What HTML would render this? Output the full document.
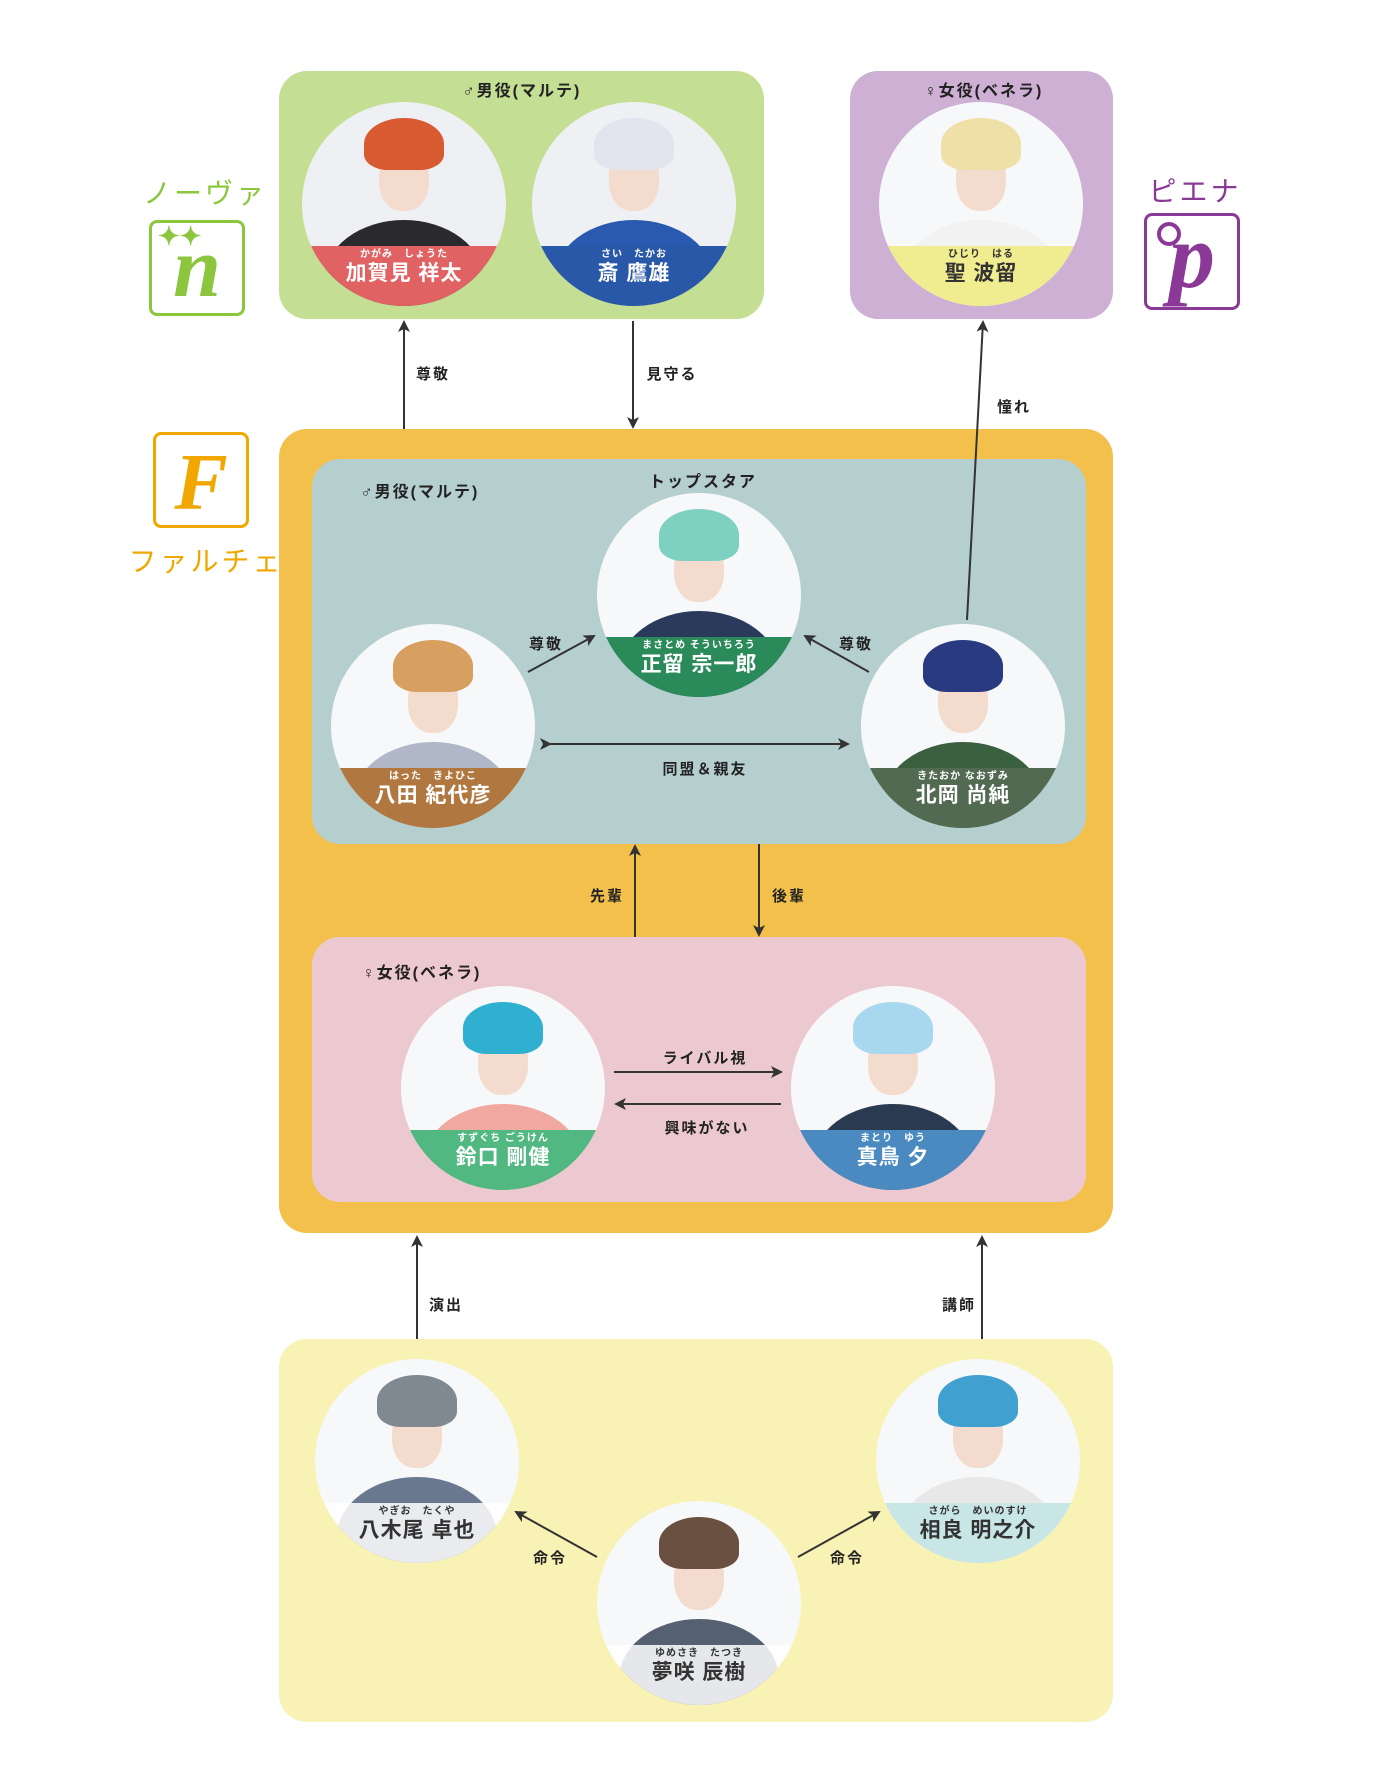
<!DOCTYPE html>
<html><head><meta charset="utf-8">
<style>
*{margin:0;padding:0;box-sizing:border-box}
body{width:1380px;height:1792px;background:#fff;position:relative;overflow:hidden;font-family:"Liberation Sans","Noto Sans CJK JP",sans-serif;color:#222}
.box{position:absolute;border-radius:28px}
.t{position:absolute;font-size:16px;font-weight:bold;letter-spacing:2px;white-space:nowrap;transform:translateX(-50%)}
.c{position:absolute;width:204px;height:204px;border-radius:50%;overflow:hidden;background:#eef0f3;transform:translate(-50%,-50%)}
.c .body{position:absolute;left:22px;top:118px;width:160px;height:120px;border-radius:50% 50% 0 0}
.c .face{position:absolute;left:77px;top:45px;width:50px;height:64px;border-radius:45%;background:#f3dccd}
.c .hair{position:absolute;left:62px;top:16px;width:80px;height:52px;border-radius:50% 50% 30% 30%}
.c .band{position:absolute;left:0;top:144px;width:204px;height:60px;text-align:center}
.c .fu{font-size:10px;font-weight:bold;letter-spacing:1px;line-height:12px;padding-top:3px}
.c .nm{font-size:21px;font-weight:bold;line-height:26px;letter-spacing:1px}
.logo{position:absolute;border:3px solid;border-radius:8px;background:#fff}
</style></head><body>

<!-- boxes -->
<div class="box" style="left:279px;top:71px;width:485px;height:248px;background:#c4de94"></div>
<div class="box" style="left:850px;top:71px;width:263px;height:248px;background:#cdb0d4"></div>
<div class="box" style="left:279px;top:429px;width:834px;height:804px;background:#f3c04c"></div>
<div class="box" style="left:312px;top:459px;width:774px;height:385px;background:#b5cfcf"></div>
<div class="box" style="left:312px;top:937px;width:774px;height:265px;background:#ecc8d0"></div>
<div class="box" style="left:279px;top:1339px;width:834px;height:383px;background:#f8f2b4"></div>

<!-- logos -->
<div class="t" style="left:205px;top:172px;font-size:28px;font-weight:normal;color:#8cc63f;letter-spacing:3px">ノーヴァ</div>
<div class="logo" style="left:149px;top:220px;width:96px;height:96px;border-color:#8cc63f;color:#8cc63f;font:italic bold 86px 'Liberation Serif',serif;text-align:center;line-height:88px">n<span style="position:absolute;left:6px;top:-30px;font-size:26px;font-style:normal">✦✦</span></div>
<div class="t" style="left:1195px;top:170px;font-size:28px;font-weight:normal;color:#8a3a96;letter-spacing:3px">ピエナ</div>
<div class="logo" style="left:1144px;top:213px;width:96px;height:97px;border-color:#8a3a96;color:#8a3a96;font:italic bold 92px 'Liberation Serif',serif;text-align:center;line-height:80px">p<span style="position:absolute;left:10px;top:6px;width:24px;height:24px;border:4px solid #8a3a96;border-radius:50%"></span></div>
<div class="logo" style="left:153px;top:432px;width:96px;height:96px;border-color:#f0a800;color:#f0a800;font:italic bold 80px 'Liberation Serif',serif;text-align:center;line-height:96px">F</div>
<div class="t" style="left:206px;top:540px;font-size:28px;font-weight:normal;color:#f0a800;letter-spacing:3px">ファルチェ</div>

<!-- group labels -->
<div class="t" style="left:522px;top:77px">♂男役(マルテ)</div>
<div class="t" style="left:984px;top:77px">♀女役(ベネラ)</div>
<div class="t" style="left:420px;top:478px">♂男役(マルテ)</div>
<div class="t" style="left:703px;top:468px">トップスタア</div>
<div class="t" style="left:422px;top:959px">♀女役(ベネラ)</div>

<!-- circles -->
<div class="c" style="left:404px;top:204px"><div class="body" style="background:#2a2a2e"></div><div class="face"></div><div class="hair" style="background:#d85a30"></div><div class="band" style="background:#e06262;color:#fff"><div class="fu">かがみ　しょうた</div><div class="nm">加賀見 祥太</div></div></div>
<div class="c" style="left:634px;top:204px"><div class="body" style="background:#2a5ab0"></div><div class="face"></div><div class="hair" style="background:#e2e4ee"></div><div class="band" style="background:#2a58a8;color:#fff"><div class="fu">さい　たかお</div><div class="nm">斎 鷹雄</div></div></div>
<div class="c" style="left:981px;top:204px;background:#f6f8fa"><div class="body" style="background:#f2f2f2"></div><div class="face"></div><div class="hair" style="background:#efe0a8"></div><div class="band" style="background:#f0ec90;color:#333"><div class="fu">ひじり　はる</div><div class="nm">聖 波留</div></div></div>
<div class="c" style="left:699px;top:595px;background:#f6f8fa"><div class="body" style="background:#2a3a5a"></div><div class="face"></div><div class="hair" style="background:#7ed0c0"></div><div class="band" style="background:#2a8a5a;color:#fff"><div class="fu">まさとめ そういちろう</div><div class="nm">正留 宗一郎</div></div></div>
<div class="c" style="left:433px;top:726px;background:#f6f8fa"><div class="body" style="background:#b0b8c8"></div><div class="face"></div><div class="hair" style="background:#d8a060"></div><div class="band" style="background:#b07840;color:#fff"><div class="fu">はった　きよひこ</div><div class="nm">八田 紀代彦</div></div></div>
<div class="c" style="left:963px;top:726px;background:#f6f8fa"><div class="body" style="background:#3a6040"></div><div class="face"></div><div class="hair" style="background:#2a3a80"></div><div class="band" style="background:#526a52;color:#fff"><div class="fu">きたおか なおずみ</div><div class="nm">北岡 尚純</div></div></div>
<div class="c" style="left:503px;top:1088px;background:#f6f8fa"><div class="body" style="background:#f0a8a0"></div><div class="face"></div><div class="hair" style="background:#30b0d0"></div><div class="band" style="background:#50b880;color:#fff"><div class="fu">すずぐち ごうけん</div><div class="nm">鈴口 剛健</div></div></div>
<div class="c" style="left:893px;top:1088px;background:#f6f8fa"><div class="body" style="background:#2a3a50"></div><div class="face"></div><div class="hair" style="background:#a8d8f0"></div><div class="band" style="background:#4a8ac0;color:#fff"><div class="fu">まとり　ゆう</div><div class="nm">真鳥 夕</div></div></div>
<div class="c" style="left:417px;top:1461px;background:#f6f8fa"><div class="body" style="background:#6a7890"></div><div class="face"></div><div class="hair" style="background:#808890"></div><div class="band" style="background:rgba(255,255,255,.85);color:#333"><div class="fu">やぎお　たくや</div><div class="nm">八木尾 卓也</div></div></div>
<div class="c" style="left:978px;top:1461px;background:#f6f8fa"><div class="body" style="background:#e8e8e8"></div><div class="face"></div><div class="hair" style="background:#40a0d0"></div><div class="band" style="background:#c8e6e6;color:#333"><div class="fu">さがら　めいのすけ</div><div class="nm">相良 明之介</div></div></div>
<div class="c" style="left:699px;top:1603px;background:#f6f8fa"><div class="body" style="background:#556070"></div><div class="face"></div><div class="hair" style="background:#6a5040"></div><div class="band" style="background:rgba(255,255,255,.85);color:#333"><div class="fu">ゆめさき　たつき</div><div class="nm">夢咲 辰樹</div></div></div>

<!-- arrows -->
<svg width="1380" height="1792" style="position:absolute;left:0;top:0">
<defs><marker id="a" markerWidth="12" markerHeight="12" refX="10" refY="6" orient="auto" markerUnits="userSpaceOnUse"><path d="M0,0 L12,6 L0,12 L3,6 Z" fill="#333"/></marker></defs>
<g stroke="#333" stroke-width="2" fill="none" marker-end="url(#a)">
<line x1="404" y1="429" x2="404" y2="322"/>
<line x1="633" y1="321" x2="633" y2="427"/>
<line x1="967" y1="620" x2="983" y2="322"/>
<line x1="528" y1="672" x2="594" y2="636"/>
<line x1="869" y1="672" x2="805" y2="636"/>
<line x1="550" y1="744" x2="848" y2="744" marker-start="url(#a)"/>
<line x1="635" y1="937" x2="635" y2="846"/>
<line x1="759" y1="844" x2="759" y2="935"/>
<line x1="614" y1="1072" x2="781" y2="1072"/>
<line x1="781" y1="1104" x2="616" y2="1104"/>
<line x1="417" y1="1339" x2="417" y2="1237"/>
<line x1="982" y1="1339" x2="982" y2="1237"/>
<line x1="597" y1="1557" x2="516" y2="1512"/>
<line x1="798" y1="1557" x2="879" y2="1512"/>
</g>
<g font-size="15" font-weight="bold" fill="#222" text-anchor="middle" font-family="Liberation Sans, Noto Sans CJK JP, sans-serif" letter-spacing="2">
<text x="433" y="379">尊敬</text>
<text x="672" y="379">見守る</text>
<text x="1014" y="412">憧れ</text>
<text x="546" y="649">尊敬</text>
<text x="856" y="649">尊敬</text>
<text x="705" y="774">同盟＆親友</text>
<text x="607" y="901">先輩</text>
<text x="789" y="901">後輩</text>
<text x="705" y="1063">ライバル視</text>
<text x="707" y="1133">興味がない</text>
<text x="446" y="1310">演出</text>
<text x="959" y="1310">講師</text>
<text x="550" y="1563">命令</text>
<text x="847" y="1563">命令</text>
</g>
</svg>
</body></html>
